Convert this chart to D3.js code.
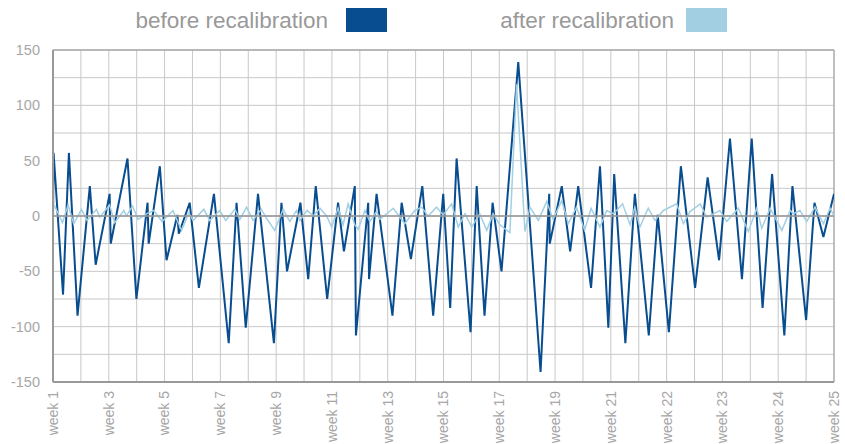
<!DOCTYPE html>
<html>
<head>
<meta charset="utf-8">
<script src="https://cdn.jsdelivr.net/npm/d3@7"></script>
<style>
body { margin: 0; background: #fff; }
text { font-family: "Liberation Sans", Arial, sans-serif; }
</style>
</head>
<body>
<svg width="845" height="444"></svg>
<script>
// tick labels shown along the bottom (every second grid column)
var weekLabels = ["week 1", "week 3", "week 5", "week 7", "week 9", "week 11", "week 13",
                  "week 15", "week 17", "week 19", "week  21", "week 22", "week 23", "week 24", "week 25"];
var yTicks = [150, 100, 50, 0, -50, -100, -150];

// before recalibration: sample position (grid columns from week 1) and value
var beforePos = [0, 0.02, 0.36, 0.57, 0.88, 1.32, 1.53, 2.03, 2.07, 2.67, 2.99, 3.39, 3.43, 3.83, 4.07,
  4.46, 4.51, 4.90, 5.23, 5.77, 6.30, 6.58, 6.91, 7.35, 7.92, 8.19, 8.39, 8.87, 9.15, 9.42, 9.83,
  10.22, 10.43, 10.82, 10.86, 11.30, 11.33, 11.60, 12.17, 12.50, 12.83, 13.24, 13.63, 13.99, 14.24,
  14.47, 14.97, 15.19, 15.47, 15.76, 16.08, 16.68, 17.48, 17.79, 17.81, 18.24, 18.54, 18.83, 19.29,
  19.61, 19.91, 20.12, 20.52, 20.86, 21.36, 21.68, 22.08, 22.51, 23.02, 23.47, 23.88, 24.27, 24.70,
  25.05, 25.44, 25.78, 26.22, 26.51, 27.00, 27.30, 27.62, 28.00];
var beforeVal = [-5, 57, -71, 57, -90, 27, -44, 20, -25, 52, -75, 12, -25, 45, -40,
  1, -16, 12, -65, 20, -115, 12, -101, 20, -115, 12, -50, 12, -57, 27, -75,
  12, -32, 27, -108, 12, -57, 20, -90, 12, -39, 27, -90, 20, -83,
  52, -105, 27, -90, 12, -50, 139, -141, 20, -25, 27, -32, 27, -65,
  45, -101, 38, -115, 20, -108, 1, -105, 45, -65, 35, -40, 70, -57,
  70, -83, 38, -108, 27, -94, 12, -19, 20];

// after recalibration
var afterPos = [0.04, 0.34, 0.54, 0.74, 1.02, 1.22, 1.56, 1.68, 2.03, 2.21, 2.54, 2.63, 2.85, 3.05,
  3.35, 3.61, 3.91, 4.30, 4.61, 4.87, 5.02, 5.41, 5.62, 5.98, 6.19, 6.52, 6.70, 6.94, 7.17, 7.47,
  7.65, 7.95, 8.25, 8.49, 8.73, 8.85, 9.11, 9.33, 9.57, 9.81, 9.99, 10.22, 10.40, 10.58, 10.82,
  10.94, 11.18, 11.36, 11.60, 11.72, 12.20, 12.61, 12.97, 13.21, 13.45, 13.75, 13.99, 14.29, 14.53,
  14.77, 15.01, 15.30, 15.55, 15.78, 16.02, 16.38, 16.62, 16.92, 17.10, 17.40, 17.70, 17.93, 18.24,
  18.47, 18.77, 19.06, 19.29, 19.61, 19.85, 20.09, 20.42, 20.69, 20.86, 21.04, 21.34, 21.58, 21.88,
  22.36, 22.60, 22.84, 23.20, 23.44, 23.91, 24.15, 24.57, 24.93, 25.23, 25.41, 25.71, 26.13, 26.43,
  26.54, 26.78, 27.02, 27.32, 27.62, 27.86, 28.00];
var afterVal = [10, -6, 10, -7, 6, -4, 6, -1, 10, -6, 5, 0, 9, -3,
  2, 5, -5, 5, -13, 3, -4, 6, -4, 5, -4, 6, -3, 8, -4, 6,
  -2, -13, 6, -5, 5, -4, 5, 0, 7, 0, -10, 7, -8, 11, -8,
  -12, 5, -5, 4, -3, 7, -7, 5, 8, 0, 8, 1, 11, -10,
  2, -10, 2, -13, 2, -8, -15, 119, -14, 8, -4, 13, -3, 14,
  -7, 8, -13, 7, -10, 5, 2, 11, -8, 8, -10, 7, -4, 5,
  11, -7, 4, 11, -1, 5, -5, 7, -14, 7, -11, 7, -13, 5,
  2, 5, -5, 8, -7, 7, 0];

var darkBlue = "#084d8f", lightBlue = "#a3cfe3";

var svg = d3.select("svg"),
    margin = {top: 50, right: 11, bottom: 62, left: 53},
    width = 845 - margin.left - margin.right,
    height = 444 - margin.top - margin.bottom;

var x = d3.scaleLinear().domain([0, 28]).range([0, width]);
var y = d3.scaleLinear().domain([-150, 150]).range([height, 0]);

var g = svg.append("g").attr("transform", "translate(" + margin.left + "," + margin.top + ")");

// grid
g.append("g").selectAll("line").data(d3.range(-150, 151, 25)).enter().append("line")
  .attr("x1", 0).attr("x2", width)
  .attr("y1", function(d) { return y(d); }).attr("y2", function(d) { return y(d); })
  .attr("stroke", "#c8c8c8").attr("stroke-width", 1);
g.append("g").selectAll("line").data(d3.range(1, 28)).enter().append("line")
  .attr("y1", 0).attr("y2", height)
  .attr("x1", function(d) { return x(d); }).attr("x2", function(d) { return x(d); })
  .attr("stroke", "#c8c8c8").attr("stroke-width", 1);

// frame
g.append("line").attr("x1", 0).attr("x2", width).attr("y1", 0).attr("y2", 0)
  .attr("stroke", "#aaa").attr("stroke-width", 1.5);
g.append("line").attr("x1", width).attr("x2", width).attr("y1", 0).attr("y2", height)
  .attr("stroke", "#aaa").attr("stroke-width", 1.5);

// y axis labels
g.append("g").selectAll("text").data(yTicks).enter().append("text")
  .attr("x", -13).attr("y", function(d) { return y(d); }).attr("dy", "0.35em")
  .attr("text-anchor", "end").attr("fill", "#a6a6a6").attr("font-size", "14.5px")
  .text(function(d) { return d; });

// x axis labels (rotated)
g.append("g").selectAll("text").data(weekLabels).enter().append("text")
  .attr("transform", function(d, i) { return "translate(" + x(i * 2) + "," + (height + 9) + ") rotate(-90)"; })
  .attr("dy", "0.35em").attr("text-anchor", "end")
  .attr("fill", "#a6a6a6").attr("font-size", "14px")
  .text(function(d) { return d; });

// clip
svg.append("clipPath").attr("id", "plot").append("rect")
  .attr("width", width).attr("height", height);

var line = d3.line()
  .x(function(d) { return x(d[0]); })
  .y(function(d) { return y(d[1]); });

var plot = g.append("g").attr("clip-path", "url(#plot)");
plot.append("path").datum(d3.zip(beforePos, beforeVal))
  .attr("d", line).attr("fill", "none").attr("stroke", darkBlue).attr("stroke-width", 2)
  .attr("stroke-linejoin", "miter");
plot.append("path").datum(d3.zip(afterPos, afterVal))
  .attr("d", line).attr("fill", "none").attr("stroke", lightBlue).attr("stroke-width", 1.5);

// zero line and axes
g.append("line").attr("x1", 0).attr("x2", width).attr("y1", y(0)).attr("y2", y(0))
  .attr("stroke", "#999").attr("stroke-width", 2).attr("opacity", 0.8);
g.append("line").attr("x1", 0).attr("x2", 0).attr("y1", 0).attr("y2", height)
  .attr("stroke", "#999").attr("stroke-width", 2);
g.append("line").attr("x1", 0).attr("x2", width).attr("y1", height).attr("y2", height)
  .attr("stroke", "#999").attr("stroke-width", 2);

// legend
var legend = [
  {name: "before recalibration", color: darkBlue, tx: 328, rx: 346},
  {name: "after recalibration", color: lightBlue, tx: 674, rx: 686}
];
var lg = svg.append("g").selectAll("g").data(legend).enter().append("g");
lg.append("text").attr("x", function(d) { return d.tx; }).attr("y", 28)
  .attr("text-anchor", "end").attr("fill", "#999").attr("font-size", "22.5px")
  .text(function(d) { return d.name; });
lg.append("rect").attr("x", function(d) { return d.rx; }).attr("y", 8)
  .attr("width", 41).attr("height", 24).attr("fill", function(d) { return d.color; });
</script>
</body>
</html>
